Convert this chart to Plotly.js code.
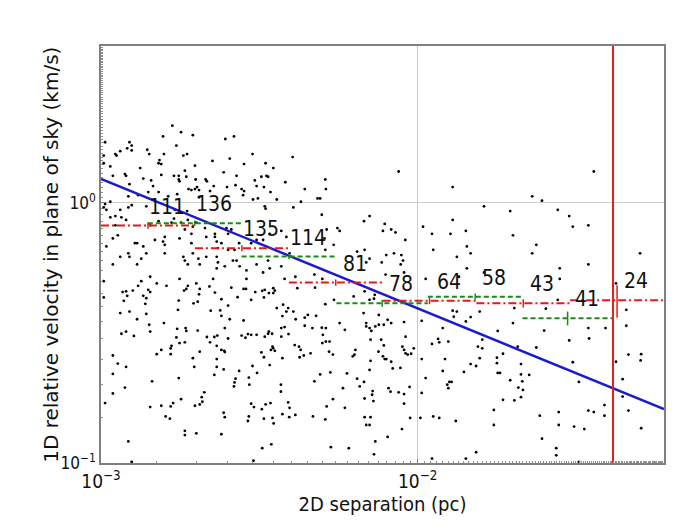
<!DOCTYPE html>
<html>
<head>
<meta charset="utf-8">
<script src="https://cdn.plot.ly/plotly-3.0.1.min.js"></script>
<style>
  html, body { margin: 0; padding: 0; background: #fff; }
  #chart { width: 680px; height: 530px; }
</style>
</head>
<body>
<div id="chart"></div>
<script>
// pairs: 2D separation (pc), 1D relative velocity (km/s)
var sep = [
  1.68e-3,1.57e-3,1.79e-3,1.95e-3,2.47e-3,2.63e-3,1.03e-3,1.23e-3,1.21e-3,1.25e-3,1.25e-3,1.15e-3,1.11e-3,1.12e-3,1.40e-3,1.42e-3,1.58e-3,1.73e-3,1.82e-3,1.87e-3,
  3.01e-3,1.02e-3,1.02e-3,1.07e-3,1.53e-3,1.52e-3,1.55e-3,1.98e-3,2.25e-3,2.55e-3,2.83e-3,3.31e-3,3.50e-3,3.33e-3,3.21e-3,1.33e-3,1.19e-3,1.20e-3,1.09e-3,1.23e-3,
  1.36e-3,1.44e-3,1.46e-3,1.55e-3,1.70e-3,1.76e-3,1.76e-3,1.77e-3,1.84e-3,1.86e-3,1.99e-3,2.14e-3,2.16e-3,2.44e-3,2.68e-3,2.66e-3,3.06e-3,3.10e-3,3.37e-3,3.82e-3,
  1.22e-3,1.31e-3,1.41e-3,1.52e-3,1.63e-3,1.74e-3,1.89e-3,1.93e-3,1.98e-3,2.01e-3,2.04e-3,2.04e-3,2.21e-3,2.27e-3,2.50e-3,2.78e-3,2.83e-3,2.81e-3,3.27e-3,3.43e-3,
  3.59e-3,3.02e-3,3.13e-3,3.29e-3,3.31e-3,1.03e-3,1.07e-3,1.02e-3,1.04e-3,1.22e-3,1.25e-3,1.15e-3,1.39e-3,1.71e-3,1.87e-3,1.07e-3,1.11e-3,1.16e-3,1.20e-3,1.11e-3,
  1.43e-3,1.52e-3,1.67e-3,1.70e-3,1.79e-3,1.88e-3,2.00e-3,1.09e-3,1.13e-3,1.04e-3,1.28e-3,1.30e-3,1.36e-3,1.48e-3,1.59e-3,1.57e-3,1.59e-3,1.77e-3,1.84e-3,1.93e-3,
  1.93e-3,1.95e-3,2.13e-3,2.15e-3,2.29e-3,2.29e-3,2.32e-3,2.34e-3,2.49e-3,2.52e-3,2.58e-3,2.40e-3,2.52e-3,2.64e-3,2.73e-3,2.98e-3,3.10e-3,3.25e-3,3.41e-3,3.71e-3,
  3.85e-3,1.09e-3,1.15e-3,1.22e-3,1.23e-3,1.30e-3,1.34e-3,1.39e-3,1.59e-3,1.82e-3,1.84e-3,1.88e-3,1.95e-3,2.03e-3,2.05e-3,2.15e-3,2.32e-3,2.32e-3,2.34e-3,2.46e-3,
  2.61e-3,2.68e-3,2.74e-3,2.88e-3,3.10e-3,3.25e-3,3.37e-3,3.41e-3,3.71e-3,3.94e-3,1.02e-3,1.31e-3,1.34e-3,1.43e-3,1.50e-3,1.61e-3,1.77e-3,1.88e-3,2.00e-3,2.26e-3,
  2.88e-3,3.50e-3,3.80e-3,
  1.02e-3,1.17e-3,1.20e-3,1.18e-3,1.21e-3,1.26e-3,1.36e-3,1.38e-3,1.39e-3,1.41e-3,1.43e-3,1.83e-3,1.86e-3,2.05e-3,2.04e-3,1.96e-3,2.02e-3,2.20e-3,2.29e-3,2.40e-3,
  2.58e-3,2.70e-3,2.82e-3,2.87e-3,2.98e-3,3.07e-3,3.23e-3,3.27e-3,3.29e-3,3.39e-3,3.50e-3,3.54e-3,3.59e-3,3.76e-3,3.85e-3,3.74e-3,3.90e-3,1.15e-3,1.23e-3,1.30e-3,
  1.39e-3,1.42e-3,1.43e-3,1.16e-3,1.20e-3,1.27e-3,1.58e-3,1.75e-3,1.76e-3,1.74e-3,1.85e-3,1.86e-3,2.02e-3,2.22e-3,2.38e-3,2.40e-3,2.52e-3,2.55e-3,2.82e-3,2.98e-3,
  3.10e-3,3.29e-3,3.37e-3,3.39e-3,3.47e-3,3.71e-3,3.80e-3,3.71e-3,3.91e-3,1.09e-3,1.13e-3,1.20e-3,1.09e-3,1.09e-3,1.19e-3,1.03e-3,1.50e-3,1.55e-3,1.66e-3,1.67e-3,
  1.66e-3,1.73e-3,1.77e-3,1.84e-3,1.95e-3,1.97e-3,2.05e-3,2.16e-3,2.21e-3,2.28e-3,2.33e-3,2.32e-3,2.40e-3,2.45e-3,2.46e-3,2.32e-3,2.32e-3,2.28e-3,2.44e-3,2.52e-3,
  2.46e-3,2.78e-3,2.86e-3,2.91e-3,2.73e-3,2.66e-3,2.64e-3,2.63e-3,2.93e-3,2.94e-3,3.01e-3,3.11e-3,3.21e-3,3.27e-3,3.41e-3,3.44e-3,3.50e-3,3.54e-3,3.74e-3,3.70e-3,
  3.70e-3,3.48e-3,1.45e-3,1.76e-3,1.43e-3,1.55e-3,1.66e-3,1.69e-3,1.79e-3,1.60e-3,1.65e-3,1.98e-3,2.05e-3,2.09e-3,2.12e-3,2.08e-3,2.44e-3,2.46e-3,2.98e-3,3.04e-3,
  2.93e-3,2.91e-3,3.22e-3,3.27e-3,3.31e-3,3.43e-3,3.48e-3,3.51e-3,3.74e-3,3.90e-3,3.93e-3,1.22e-3,1.84e-3,1.84e-3,2.00e-3,2.40e-3,1.25e-3,3.23e-3,3.45e-3,3.03e-3,
  4.03e-3,4.40e-3,4.28e-3,4.05e-3,4.83e-3,4.92e-3,5.11e-3,5.13e-3,4.98e-3,8.71e-3,12.9e-3,6.77e-3,7.05e-3,7.87e-3,7.77e-3,8.25e-3,8.51e-3,9.14e-3,5.16e-3,5.58e-3,
  5.67e-3,5.08e-3,5.43e-3,5.11e-3,6.44e-3,6.80e-3,7.05e-3,7.96e-3,8.42e-3,8.88e-3,8.99e-3,8.84e-3,7.70e-3,9.06e-3,7.92e-3,6.88e-3,4.72e-3,4.11e-3,4.17e-3,5.00e-3,
  10.4e-3,11.1e-3,12.7e-3,12.9e-3,14.2e-3,11.2e-3,14.3e-3,14.7e-3,13.3e-3,14.3e-3,10.6e-3,13.5e-3,
  4.74e-3,5.11e-3,5.44e-3,6.28e-3,6.80e-3,7.32e-3,7.28e-3,7.05e-3,4.05e-3,4.50e-3,4.40e-3,4.12e-3,4.78e-3,4.40e-3,4.65e-3,4.98e-3,5.13e-3,5.02e-3,5.67e-3,5.89e-3,
  6.75e-3,6.88e-3,6.88e-3,7.05e-3,7.35e-3,7.54e-3,7.82e-3,8.04e-3,8.25e-3,9.06e-3,7.54e-3,7.14e-3,4.09e-3,4.22e-3,4.27e-3,4.24e-3,4.37e-3,4.59e-3,5.00e-3,5.13e-3,
  5.27e-3,5.25e-3,5.40e-3,7.10e-3,7.67e-3,7.82e-3,9.16e-3,8.95e-3,9.06e-3,9.16e-3,9.30e-3,9.54e-3,9.72e-3,6.36e-3,6.32e-3,6.24e-3,7.52e-3,7.77e-3,7.87e-3,7.96e-3,
  7.10e-3,8.25e-3,4.92e-3,5.30e-3,5.98e-3,4.72e-3,7.05e-3,8.34e-3,8.82e-3,6.44e-3,6.77e-3,6.56e-3,7.21e-3,7.18e-3,7.25e-3,5.81e-3,6.80e-3,5.40e-3,8.21e-3,8.09e-3,
  8.71e-3,9.06e-3,9.43e-3,9.06e-3,10.3e-3,10.6e-3,10.3e-3,3.94e-3,4.11e-3,4.67e-3,5.11e-3,5.16e-3,5.89e-3,6.80e-3,7.10e-3,6.88e-3,7.05e-3,8.92e-3,8.04e-3,9.47e-3,
  10.2e-3,11.2e-3,11.7e-3,13.2e-3,7.35e-3,5.32e-3,6.06e-3,7.28e-3,11.1e-3,14.2e-3,10.3e-3,11.1e-3,11.6e-3,11.7e-3,12.5e-3,12.0e-3,12.9e-3,13.3e-3,13.0e-3,14.2e-3,
  14.7e-3,12.2e-3,12.0e-3,12.6e-3,12.4e-3,12.8e-3,12.5e-3,14.0e-3,14.7e-3,
  36.0e-3,23.0e-3,24.7e-3,16.2e-3,19.6e-3,27.7e-3,30.1e-3,30.9e-3,34.6e-3,20.0e-3,23.7e-3,23.0e-3,50.4e-3,28.1e-3,34.6e-3,28.1e-3,16.2e-3,42.3e-3,
  15.7e-3,20.2e-3,25.4e-3,27.7e-3,20.0e-3,17.9e-3,16.0e-3,15.5e-3,16.0e-3,15.7e-3,15.3e-3,20.7e-3,23.7e-3,25.1e-3,30.1e-3,34.6e-3,34.8e-3,39.2e-3,45.6e-3,45.6e-3,
  17.8e-3,17.8e-3,18.6e-3,17.9e-3,18.2e-3,21.2e-3,21.2e-3,22.5e-3,19.6e-3,21.4e-3,20.8e-3,21.5e-3,21.2e-3,18.6e-3,20.2e-3,30.9e-3,32.3e-3,42.3e-3,46.3e-3,50.8e-3,
  50.6e-3,44.4e-3,44.4e-3,17.4e-3,17.4e-3,24.3e-3,27.9e-3,27.9e-3,31.2e-3,33.6e-3,34.6e-3,36.0e-3,38.9e-3,38.9e-3,46.3e-3,50.8e-3,24.7e-3,27.4e-3,27.4e-3,15.3e-3,
  32.3e-3
];
var vel = [
  1.98,1.80,1.87,1.82,1.76,1.80,1.71,1.71,1.62,1.66,1.59,1.58,1.54,1.52,1.60,1.54,1.54,1.66,1.52,1.54,
  1.54,1.52,1.42,1.38,1.46,1.42,1.41,1.39,1.45,1.48,1.41,1.42,1.36,1.27,1.26,1.36,1.29,1.27,1.27,1.18,
  1.24,1.22,1.16,1.28,1.27,1.27,1.23,1.21,1.33,1.26,1.23,1.23,1.21,1.31,1.27,1.17,1.22,1.16,1.26,1.20,
  1.06,1.07,1.10,1.10,1.06,1.08,1.13,1.12,1.13,1.15,1.12,1.05,1.11,1.16,1.15,1.13,1.11,1.07,1.15,1.10,
  1.03,1.03,1.04,0.97,0.95,0.99,1.01,0.96,0.94,0.96,0.98,0.94,0.97,0.94,0.93,0.88,0.89,0.88,0.86,0.82,
  0.82,0.85,0.84,0.87,0.84,0.86,0.84,0.73,0.75,0.68,0.70,0.70,0.68,0.72,0.74,0.71,0.69,0.73,0.79,0.76,
  0.70,0.81,0.80,0.74,0.76,0.74,0.71,0.67,0.80,0.76,0.79,0.70,0.66,0.66,0.70,0.70,0.72,0.72,0.76,0.78,
  0.74,0.58,0.62,0.64,0.62,0.58,0.61,0.64,0.64,0.62,0.60,0.58,0.64,0.61,0.58,0.62,0.62,0.56,0.59,0.57,
  0.60,0.60,0.57,0.55,0.58,0.54,0.60,0.56,0.57,0.64,0.50,0.48,0.50,0.52,0.49,0.48,0.51,0.48,0.49,0.51,
  0.51,0.47,0.51,
  0.433,0.454,0.457,0.420,0.439,0.460,0.439,0.409,0.430,0.463,0.454,0.460,0.467,0.467,0.445,0.411,0.417,0.477,0.452,0.426,
  0.472,0.434,0.467,0.467,0.424,0.454,0.459,0.433,0.463,0.450,0.450,0.460,0.394,0.406,0.382,0.367,0.394,0.377,0.382,0.357,
  0.374,0.340,0.320,0.314,0.320,0.308,0.345,0.388,0.421,0.328,0.330,0.322,0.323,0.385,0.386,0.368,0.403,0.357,0.353,0.311,
  0.311,0.306,0.314,0.320,0.314,0.330,0.333,0.306,0.313,0.259,0.241,0.234,0.220,0.185,0.195,0.170,0.262,0.272,0.276,0.282,
  0.262,0.304,0.289,0.291,0.253,0.234,0.268,0.305,0.291,0.305,0.309,0.282,0.272,0.270,0.267,0.251,0.234,0.218,0.229,0.301,
  0.330,0.309,0.303,0.313,0.226,0.211,0.204,0.197,0.213,0.200,0.236,0.222,0.266,0.255,0.238,0.272,0.276,0.270,0.253,0.200,
  0.188,0.280,0.206,0.212,0.164,0.166,0.165,0.170,0.176,0.151,0.148,0.166,0.168,0.172,0.187,0.179,0.156,0.150,0.169,0.164,
  0.151,0.145,0.161,0.148,0.168,0.170,0.149,0.142,0.154,0.171,0.150,0.121,0.133,0.128,0.130,0.129,0.101,0.114,0.118,0.102,
  1.50,1.13,1.01,0.96,1.04,1.04,1.23,1.13,0.90,1.32,1.15,0.85,0.89,0.83,0.78,0.79,0.77,0.72,0.79,0.80,
  0.78,0.73,0.69,0.66,0.65,0.66,0.61,0.63,0.64,0.63,0.60,0.58,0.59,0.54,0.53,0.59,0.53,0.52,0.47,0.51,
  0.81,0.76,0.76,0.86,0.78,0.66,0.68,0.64,0.62,0.56,0.51,0.52,
  0.472,0.408,0.424,0.437,0.457,0.443,0.428,0.424,0.382,0.371,0.362,0.357,0.368,0.337,0.330,0.331,0.330,0.311,0.345,0.325,
  0.377,0.345,0.335,0.330,0.335,0.340,0.340,0.355,0.345,0.348,0.371,0.322,0.284,0.280,0.272,0.255,0.259,0.264,0.289,0.293,
  0.293,0.268,0.261,0.298,0.298,0.283,0.306,0.280,0.272,0.264,0.261,0.263,0.276,0.272,0.261,0.257,0.268,0.257,0.251,0.251,
  0.247,0.245,0.219,0.223,0.221,0.206,0.228,0.231,0.232,0.211,0.205,0.197,0.189,0.183,0.173,0.194,0.177,0.176,0.188,0.194,
  0.187,0.184,0.196,0.169,0.251,0.212,0.186,0.163,0.153,0.151,0.147,0.165,0.163,0.150,0.150,0.140,0.140,0.135,0.126,0.149,
  0.149,0.151,0.149,0.145,0.121,0.115,0.114,0.108,0.104,0.104,0.352,0.287,0.300,0.291,0.293,0.330,0.385,0.382,0.365,0.350,
  0.364,0.251,0.226,0.205,0.200,0.205,0.194,0.224,0.240,
  1.32,1.06,1.02,0.97,0.93,0.94,0.89,0.81,0.82,0.75,0.69,0.64,0.64,0.56,0.58,0.51,0.54,0.49,
  0.382,0.394,0.392,0.424,0.345,0.322,0.298,0.280,0.276,0.253,0.236,0.280,0.278,0.323,0.296,0.330,0.301,0.330,0.388,0.337,
  0.254,0.242,0.263,0.222,0.222,0.240,0.219,0.218,0.208,0.206,0.195,0.191,0.179,0.175,0.174,0.244,0.205,0.245,0.261,0.262,
  0.248,0.210,0.180,0.160,0.140,0.152,0.157,0.140,0.138,0.135,0.159,0.157,0.167,0.152,0.159,0.136,0.124,0.114,0.107,0.110,
  0.101
];

// binned medians: red = bins from 1e-3 pc, green = bins shifted by half a bin
var redEdges = [0.001, 0.00198, 0.00392, 0.00775, 0.01533, 0.0303, 0.06];
var redVel = [0.818, 0.669, 0.494, 0.420, 0.411, 0.422];
var redErr = [0.022, 0.018, 0.014, 0.012, 0.015, 0.06];
var redCounts = [111, 135, 81, 64, 43, 24];

var greenEdges = [0.001406, 0.00278, 0.00554, 0.01077, 0.02144, 0.0413];
var greenVel = [0.835, 0.622, 0.411, 0.436, 0.360];
var greenErr = [0.02, 0.015, 0.012, 0.012, 0.022];
var greenCounts = [136, 114, 78, 58, 41];

// power-law fit and the cut-off separation
var fitSep = [0.001, 0.06];
var fitVel = [1.237, 0.161];
var cutSep = 0.0414;

var xTickVals = [0.001, 0.01];
var xTickText = ["10<sup>\u22123</sup>", "10<sup>\u22122</sup>"];
var yTickVals = [0.1, 1];
var yTickText = ["10<sup>\u22121</sup>", "10<sup>0</sup>"];

var narrow = '"DejaVu Sans Condensed", "Liberation Sans Narrow", sans-serif';

function binLines(edges, vals) {
  var x = [], y = [];
  for (var i = 0; i < vals.length; i++) {
    x.push(edges[i], edges[i + 1], null);
    y.push(vals[i], vals[i], null);
  }
  return { x: x, y: y };
}

function binCenters(edges, n) {
  var c = [];
  for (var i = 0; i < n; i++) c.push(Math.sqrt(edges[i] * edges[i + 1]));
  return c;
}

var redLine = binLines(redEdges, redVel);
var greenLine = binLines(greenEdges, greenVel);
var redMid = binCenters(redEdges, redVel.length);
var greenMid = binCenters(greenEdges, greenVel.length);

var data = [
  {
    x: sep, y: vel, type: "scatter", mode: "markers",
    marker: { color: "black", size: 2.8 },
    hoverinfo: "skip"
  },
  {
    x: fitSep, y: fitVel, type: "scatter", mode: "lines",
    line: { color: "#1a1ad0", width: 2.5 }
  },
  {
    x: redLine.x, y: redLine.y, type: "scatter", mode: "lines",
    line: { color: "#e81818", width: 2, dash: "8px,3px,2px,3px" }
  },
  {
    x: greenLine.x, y: greenLine.y, type: "scatter", mode: "lines",
    line: { color: "#1a8a1a", width: 2, dash: "5px,3px" }
  },
  {
    x: redMid, y: redVel, type: "scatter", mode: "markers",
    marker: { size: 1, opacity: 0 },
    error_y: { type: "data", array: redErr, visible: true, color: "#e81818", thickness: 1.5, width: 0 }
  },
  {
    x: greenMid, y: greenVel, type: "scatter", mode: "markers",
    marker: { size: 1, opacity: 0 },
    error_y: { type: "data", array: greenErr, visible: true, color: "#1a8a1a", thickness: 1.5, width: 0 }
  },
  {
    x: [cutSep, cutSep], y: [0.05, 10], type: "scatter", mode: "lines",
    line: { color: "#e02020", width: 2 }
  }
];

// count labels, annotations on log axes take log10 positions
var annotations = [];
function addLabels(mid, vals, counts) {
  for (var i = 0; i < counts.length; i++) {
    annotations.push({
      x: Math.log10(mid[i]), y: Math.log10(vals[i]),
      xref: "x", yref: "y", text: String(counts[i]), showarrow: false,
      xshift: 19, yshift: 19,
      font: { family: narrow, size: 21, color: "#111" }
    });
  }
}
addLabels(redMid, redVel, redCounts);
addLabels(greenMid, greenVel, greenCounts);

// y-axis title placed as a rotated annotation so it sits close to the tick labels
annotations.push({
  text: "1D relative velocity in plane of sky (km/s)",
  xref: "paper", yref: "paper", x: -0.09, y: 0.5,
  xanchor: "center", yanchor: "middle", textangle: -90, showarrow: false,
  font: { family: "DejaVu Sans", size: 20, color: "#111" }
});

var layout = {
  width: 680, height: 530,
  margin: { l: 101, r: 16, t: 46, b: 67 },
  paper_bgcolor: "white", plot_bgcolor: "white",
  showlegend: false,
  xaxis: {
    type: "log", range: [-3, -1.222],
    tickmode: "array", tickvals: xTickVals, ticktext: xTickText,
    showgrid: true, gridcolor: "#cccccc", gridwidth: 1,
    showline: true, linecolor: "#808080", linewidth: 1.5, mirror: true,
    ticks: "inside", ticklen: 4, tickcolor: "#808080",
    minor: { ticks: "inside", ticklen: 2, tickcolor: "#909090", showgrid: false },
    tickfont: { family: narrow, size: 19, color: "#111" },
    zeroline: false,
    title: { text: "2D separation (pc)", font: { family: narrow, size: 20, color: "#111" }, standoff: 6 }
  },
  yaxis: {
    type: "log", range: [-1, 0.603],
    tickmode: "array", tickvals: yTickVals, ticktext: yTickText,
    showgrid: true, gridcolor: "#cccccc", gridwidth: 1,
    showline: true, linecolor: "#808080", linewidth: 1.5, mirror: true,
    ticks: "inside", ticklen: 4, tickcolor: "#808080",
    minor: { ticks: "inside", ticklen: 2, tickcolor: "#909090", showgrid: false },
    tickfont: { family: narrow, size: 17, color: "#111" },
    zeroline: false
  },
  annotations: annotations
};

var config = { displayModeBar: false, responsive: false };

Plotly.newPlot("chart", data, layout, config);
</script>
</body>
</html>
